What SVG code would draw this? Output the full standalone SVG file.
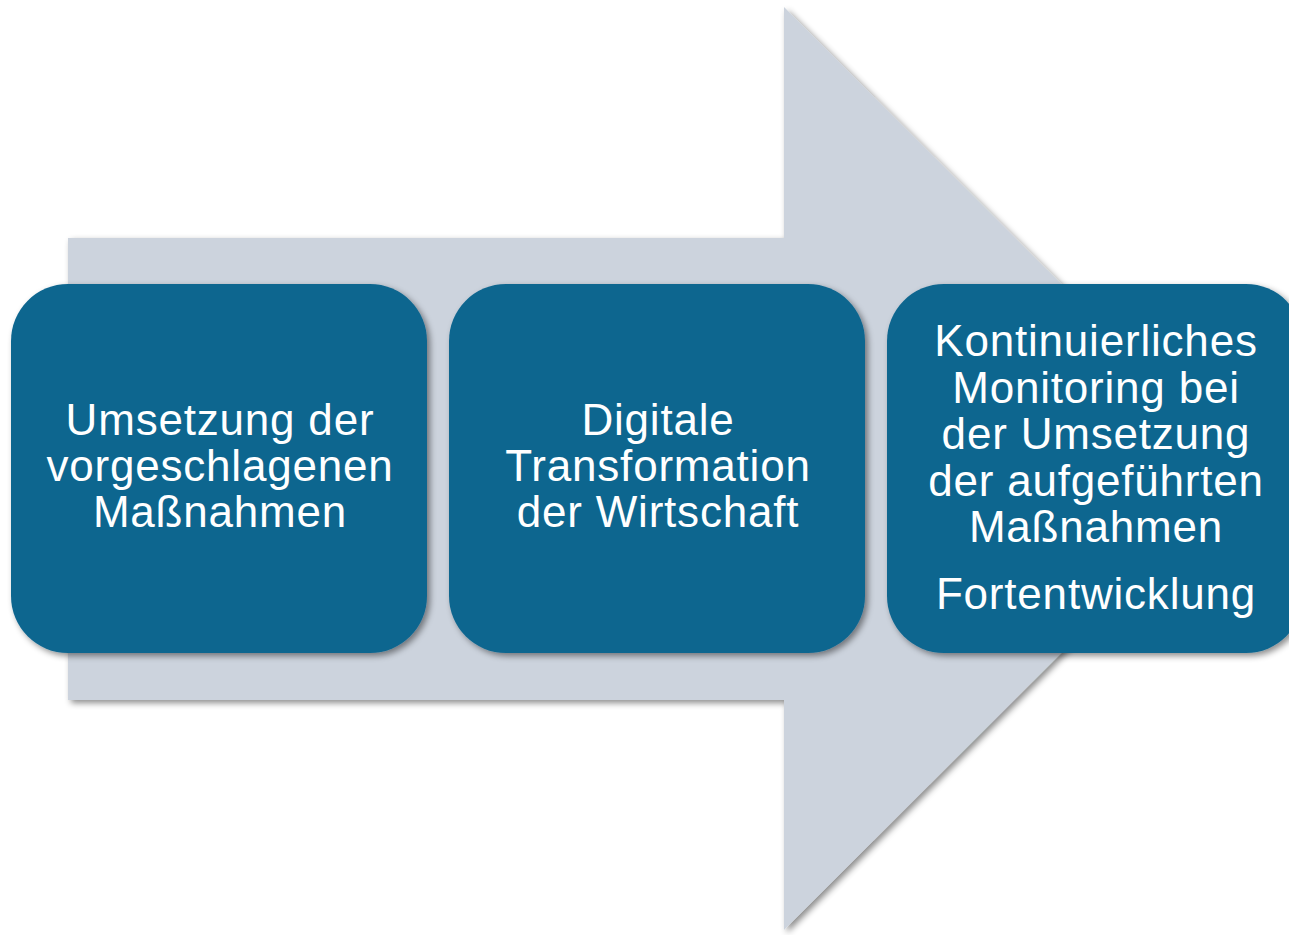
<svg xmlns="http://www.w3.org/2000/svg" width="1289" height="935" viewBox="0 0 1289 935">
<defs>
<filter id="sh" x="-10%" y="-10%" width="130%" height="130%">
<feDropShadow dx="3" dy="3" stdDeviation="3" flood-color="#000" flood-opacity="0.45"/>
</filter>
<style>
.box{fill:#10668F;filter:url(#sh)}
.t{font-family:"Liberation Sans",Arial,sans-serif;font-size:44px;letter-spacing:0.8px;fill:#fff;text-anchor:middle}
</style>
</defs>
<rect width="1289" height="935" fill="#fff"/>
<g id="arrow">
<path d="M68 238 H784 V7 L1246 468.5 L784 930 V700 H68 Z" fill="#CCD3DD" filter="url(#sh)"/>
</g>
<g id="node1">
<rect class="box" x="11" y="284" width="416" height="369" rx="57" ry="57"/>
<text class="t" x="220" y="435">Umsetzung der</text>
<text class="t" x="220" y="481">vorgeschlagenen</text>
<text class="t" x="220" y="527">Maßnahmen</text>
</g>
<g id="node2">
<rect class="box" x="449" y="284" width="416" height="369" rx="57" ry="57"/>
<text class="t" x="658" y="435">Digitale</text>
<text class="t" x="658" y="481">Transformation</text>
<text class="t" x="658" y="527">der Wirtschaft</text>
</g>
<g id="node3">
<rect class="box" x="887" y="284" width="416" height="369" rx="57" ry="57"/>
<text class="t" x="1096" y="356">Kontinuierliches</text>
<text class="t" x="1096" y="403">Monitoring bei</text>
<text class="t" x="1096" y="449">der Umsetzung</text>
<text class="t" x="1096" y="496">der aufgeführten</text>
<text class="t" x="1096" y="542">Maßnahmen</text>
<text class="t" x="1096" y="609">Fortentwicklung</text>
</g>
<g id="connectors"/>
</svg>
